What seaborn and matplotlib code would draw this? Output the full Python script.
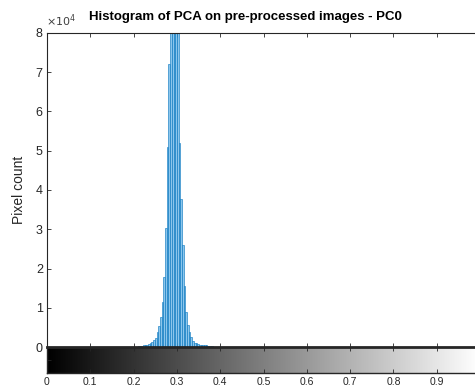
import numpy as np
import pandas as pd
import seaborn as sns
import matplotlib.pyplot as plt

# Histogram counts (x 1e4) for 256 intensity bins, only the non-empty ones
first_bin = 54
counts_e4 = [0.02, 0.03, 0.03, 0.04, 0.05, 0.06, 0.08, 0.09,
             0.13, 0.18, 0.24, 0.39, 0.53, 0.76, 1.14, 1.78, 3.02, 5.1, 7.2,
             9.5, 11.5, 12.5, 11.0, 8.8,
             5.2, 3.76, 2.6, 1.55, 0.9, 0.56, 0.39, 0.26, 0.16, 0.11, 0.09, 0.08,
             0.06, 0.05, 0.05, 0.04, 0.04, 0.03, 0.03, 0.02]
x_ticks = [0, 0.1, 0.2, 0.3, 0.4, 0.5, 0.6, 0.7, 0.8, 0.9, 1.0]
x_labels = ["0", "0.1", "0.2", "0.3", "0.4", "0.5", "0.6", "0.7", "0.8", "0.9", ""]
y_ticks = [0, 1, 2, 3, 4, 5, 6, 7, 8]

df = pd.DataFrame({
    "intensity": (first_bin + np.arange(len(counts_e4))) / 255,
    "count": np.array(counts_e4) * 1e4,
})

sns.set_style("white")
plt.rcParams["font.family"] = ["Liberation Sans", "DejaVu Sans"]

fig = plt.figure(figsize=(4.75, 3.87), dpi=100)
ax = fig.add_axes([47 / 475, 40 / 387, 433 / 475, 314 / 387])
cax = fig.add_axes([47 / 475, 14 / 387, 433 / 475, 26 / 387])

sns.histplot(data=df, x="intensity", weights="count",
             binwidth=1 / 255, binrange=(-0.5 / 255, 255.5 / 255), ax=ax,
             color="#8CC6EC", edgecolor="#0072BD", linewidth=0.4, alpha=1)

ax.set_xlim(0, 1)
ax.set_ylim(0, 8e4)
ax.set_yticks([v * 1e4 for v in y_ticks])
ax.set_yticklabels([str(v) for v in y_ticks], fontsize=9, color="#262626")
ax.set_xticks(x_ticks)
ax.set_xticklabels([])
ax.set_xlabel("")
ax.set_ylabel("Pixel count", fontsize=10, color="#262626", labelpad=7)
ax.tick_params(direction="in", length=3, width=0.6, color="#262626",
               top=True, right=True, bottom=True, left=True, pad=3)
for s in ax.spines.values():
    s.set_color("#262626")
    s.set_linewidth(0.8)
fig.text(245 / 475, 1 - 17 / 387, "Histogram of PCA on pre-processed images - PC0",
         fontsize=9.5, fontweight="bold", color="black", ha="center", va="center")
fig.text(46 / 475, 1 - 21 / 387, r"$\times10^4$", fontsize=8, color="#404040",
         ha="left", va="center")

# grayscale bar under the histogram
gradient = np.linspace(0, 1, 256).reshape(1, -1)
cax.imshow(gradient, cmap="gray", aspect="auto", extent=[0, 1, 0, 1], vmin=0, vmax=1)
cax.set_xlim(0, 1)
cax.set_ylim(0, 1)
cax.set_xticks(x_ticks)
cax.set_xticklabels(x_labels, fontsize=7.5, color="#262626")
cax.set_yticks([0.5])
cax.set_yticklabels([])
cax.tick_params(direction="in", length=3, width=0.6, color="#262626",
                top=True, bottom=True, left=True, pad=3)
for s in cax.spines.values():
    s.set_color("#262626")
    s.set_linewidth(1.0)
cax.spines["top"].set_linewidth(2.0)

fig.savefig("out.png", dpi=100)
